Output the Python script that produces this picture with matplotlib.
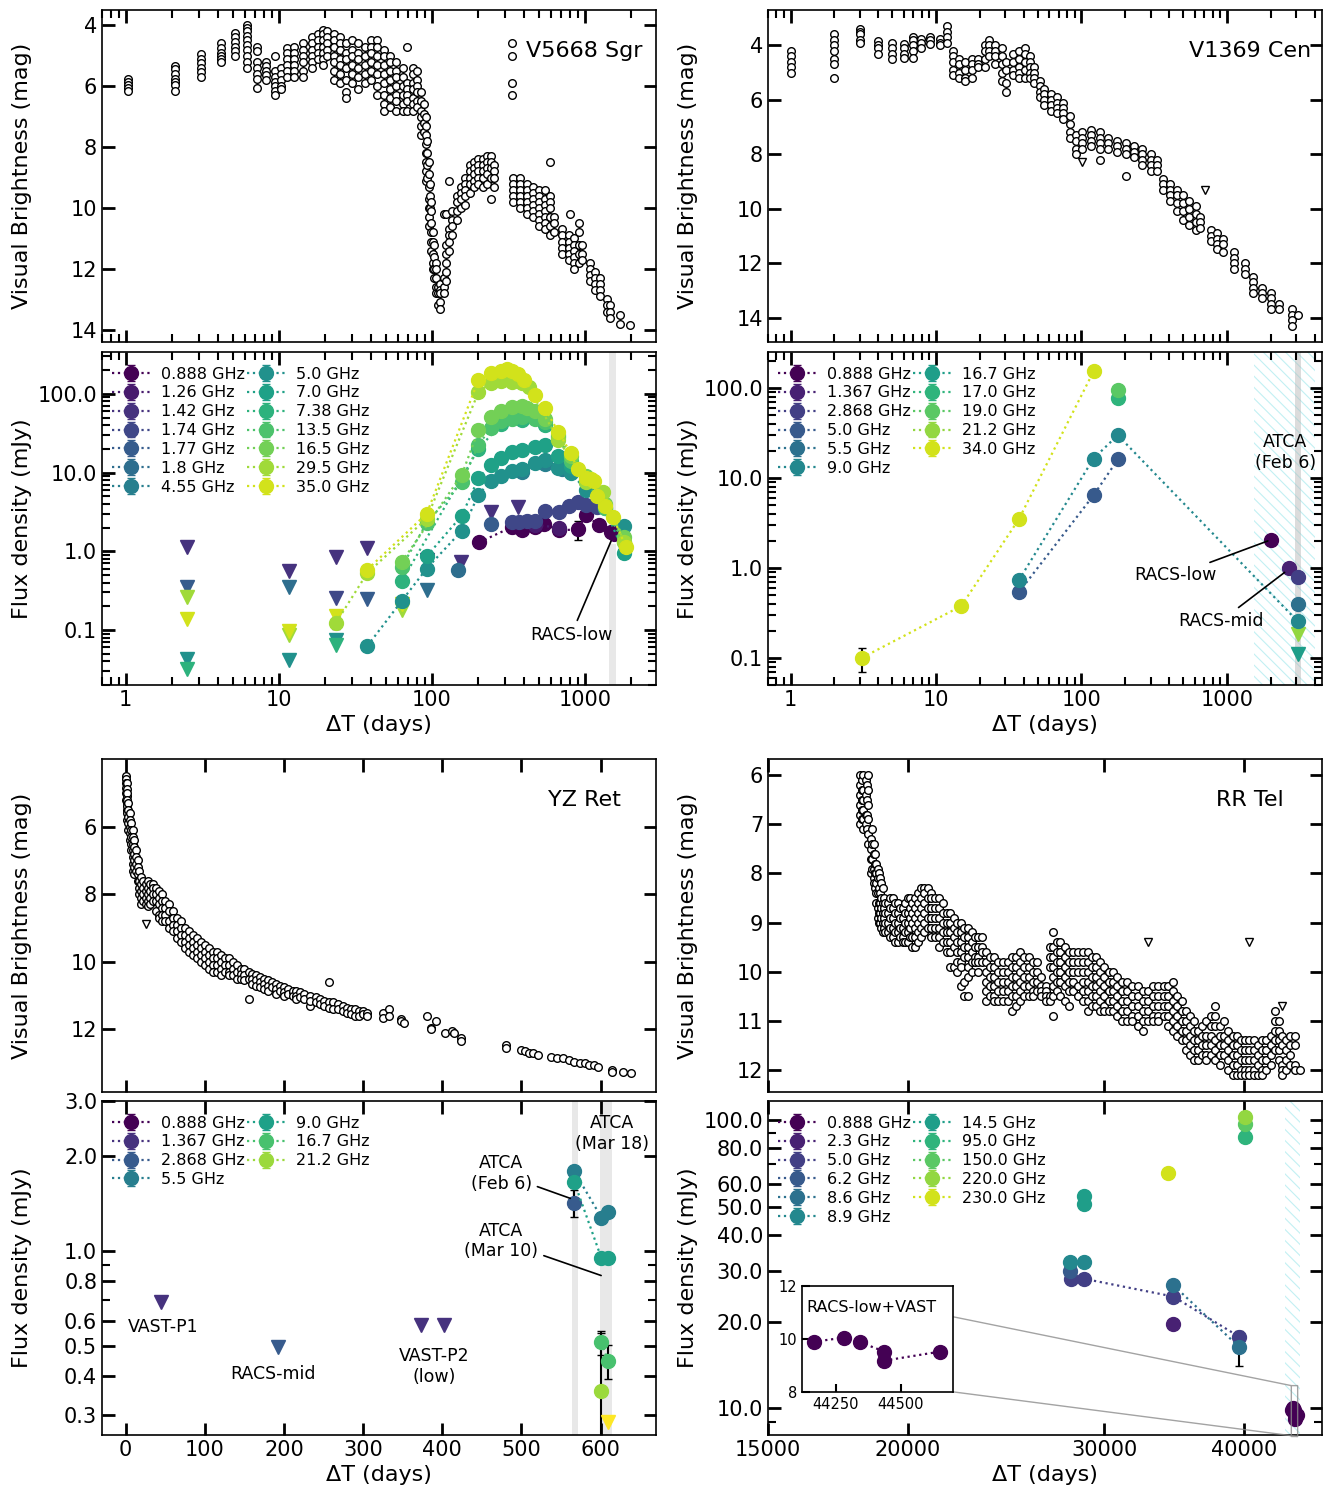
import numpy as np
import matplotlib.pyplot as plt
from matplotlib.ticker import (FixedLocator, FormatStrFormatter, NullFormatter,
                               NullLocator, FuncFormatter)

plt.rcParams['font.family'] = 'DejaVu Sans'
plt.rcParams['axes.linewidth'] = 1.2
plt.rcParams['hatch.linewidth'] = 0.8

# ------------------------------------------------------------------
# optical light curves, one row per epoch: "day  mag mag mag ..."
# ------------------------------------------------------------------
V5668_LC = """
1.04 5.75 5.85 5.95 6.05 6.15
2.09 5.35 5.45 5.6 5.75 5.85 5.95 6.15
3.11 4.95 5.1 5.25 5.4 5.55 5.7
4.16 4.6 4.75 4.9 5.0 5.1 5.2
5.16 4.25 4.4 4.55 4.7 4.85 5.0
6.23 4.0 4.1 4.2 4.35 4.5 4.65 4.8 5.0 5.2 5.4
7.24 4.7 4.85 5.2 5.4 5.6 5.75 6.05
8.3 5.2 5.35 5.5 5.65 5.8
9.38 5.0 5.5 5.7 5.85 6.0 6.15 6.3
10.3 5.4 5.6 5.8 6.0 6.1
11.3 4.75 4.9 5.1 5.3 5.5 5.7
12.5 4.7 4.9 5.1 5.3 5.5 5.7
14.3 4.6 4.8 5.0 5.2 5.5 5.7
16.5 4.4 4.6 4.8 5.0 5.2 5.4
18.0 4.3 4.5 4.7 4.9 5.1
19.4 4.15 4.3 4.5 4.7 4.9 5.1 5.3
20.7 4.2 4.4 4.6 4.8 5.0
22.8 4.3 4.5 4.7 5.0 5.2 5.5 5.8
25.0 4.4 4.6 4.8 5.1 5.3 5.6 5.9
27.5 4.6 4.9 5.1 5.4 5.8 6.2 6.4
30.1 4.5 4.8 5.0 5.3 5.6 5.9
33.0 4.6 4.9 5.1 5.4 5.7 6.1
36.4 4.7 5.0 5.3 5.6 5.9
39.9 4.5 4.7 4.9 5.2 5.5 5.8
44.0 4.5 4.7 5.0 5.3 5.6 6.0 6.3
48.3 4.8 5.0 5.3 5.6 5.9 6.3 6.6 6.8
53.3 5.0 5.2 5.5 5.8 6.1 6.4 6.7
58.5 5.2 5.5 5.7 6.0 6.3 6.5 6.8
64.3 5.4 5.7 6.0 6.3 6.6 6.8
68.3 4.7 5.9 6.1 6.3 6.5 6.8
75.1 5.4 5.6 5.9 6.1 6.4 6.6 6.8
79.8 5.5 5.8 6.0 6.2 6.5 6.7
84.8 6.2 6.5 6.8 7.0 7.3 7.6
88.0 6.6 6.9 7.2 7.5
90.7 7.0 7.3 7.6 7.9 8.2 8.5 8.8 9.1
93.0 7.8 8.2 8.6 9.0
95.0 8.5 8.9 9.3 9.7 10.0 10.3 10.6
97.0 9.2 9.6 10.0
98.8 9.8 10.1 10.5 10.8 11.1 11.4
101 10.8 11.1 11.5 11.8 12.0
103 11.2 11.6 12.0 12.3
106 11.8 12.0 12.3 12.6 12.8
110 12.6 12.8 13.2
113 12.5 12.7 12.8 13.1 13.3
119 12.3 12.6 12.8 10.2
124 11.2 11.5 11.8 12.1 12.4 10.2
130 10.7 10.9 11.1 11.4 9.1
136 10.1 10.4 10.6 10.9
145 9.6 9.8 10.1 10.4
155 9.3 9.5 9.7 10.0
165 9.0 9.2 9.4 9.6 9.9
176 8.6 8.8 9.0 9.2 9.5
188 8.5 8.7 8.9 9.1 9.3
200 8.4 8.6 8.8 9.0 9.2
214 8.4 8.6 8.8 9.0 9.3
228 8.3 8.5 8.7 8.9 9.2
242 8.3 8.5 8.7 9.0 9.7
254 8.6 8.8 9.0 9.3
331 4.6 5.0 5.9 6.3
340 9.0 9.2 9.4 9.6 9.8
375 9.0 9.2 9.4 9.6 9.8 10.0
415 9.2 9.4 9.6 9.8 10.0 10.2
455 9.3 9.5 9.7 9.9 10.1 10.3
500 9.4 9.6 9.8 10.0 10.2 10.4 10.6
550 9.4 9.7 9.9 10.1 10.3 10.5 10.7
590 9.6 9.8 10.0 10.3 10.6 10.9 8.5
625 10.3 10.5 10.8
710 10.7 10.9 11.1 11.3 11.5
780 10.9 11.1 11.3 11.5 11.7
800 10.2
840 11.0 11.2 11.4 11.6 11.8 12.0
905 10.5 10.8 11.2 11.5 11.8
960 11.2 11.5 11.7
1080 11.8 12.0 12.2 12.4
1160 12.1 12.3 12.5 12.7
1250 12.3 12.5 12.7 12.9
1380 13.0 13.2 13.4
1450 13.2 13.4 13.6
1700 13.5 13.8
1950 13.85
"""

V1369_LC = """
1.0 4.2 4.4 4.6 4.8 5.0
1.99 3.6 3.8 4.0 4.2 4.5 4.7 5.2
2.98 3.4 3.5 3.6 3.8 3.9
3.99 3.85 4.0 4.1 4.3
4.98 3.9 4.1 4.3 4.5
5.98 3.95 4.1 4.3 4.45
6.94 3.7 3.8 4.0 4.2 4.45
7.93 3.75 3.9 4.1
9.1 3.7 3.8 3.95
10.6 3.75 3.9 4.0
11.9 3.3 3.5 3.7 3.9
13.0 4.2 4.4 4.6 4.9 5.1
14.4 4.5 4.7 5.0 5.2
15.9 4.6 4.9 5.2 5.3
17.6 4.5 4.7 4.9 5.2
19.5 4.5 4.7 4.8
21.6 4.0 4.2 4.5 4.8
23.0 3.8 4.0 4.2 4.4
25.5 4.0 4.2 4.4 4.7
28.2 4.1 4.4 4.7 5.0 5.3
30.4 4.6 4.9 5.4 5.7
33.6 4.3 4.6 4.9 5.1
37.2 4.2 4.5 4.8 5.0 5.2
41.2 4.1 4.3 4.6 4.9 5.2
44.1 4.4 4.6 4.8 5.0 5.2
47.0 4.8 5.0 5.2 5.4
51.9 5.3 5.5 5.7 5.9
55.6 5.6 5.8 6.0 6.2
61.5 5.8 6.0 6.2 6.4
67.9 5.9 6.1 6.3 6.5
75.0 6.1 6.3 6.5 6.7
83.0 6.6 6.9 7.2 7.4
91.8 7.3 7.5 7.8 8.0
101 7.2 7.4 7.6 7.8
117 7.1 7.3 7.5 7.7
134 7.2 7.4 7.6 7.8 8.2
153 7.4 7.6 7.8
175 7.5 7.7 7.9
201 7.6 7.8 8.0 8.8
229 7.7 7.9 8.1
262 7.8 8.0 8.2 8.4
300 8.0 8.2 8.4 8.6
332 8.2 8.4 8.6
366 8.9 9.1 9.3
406 9.1 9.3 9.5 9.7
450 9.3 9.5 9.8 10.1
497 9.5 9.8 10.1 10.4
550 9.7 10.0 10.3 10.6
610 9.9 10.2 10.5 10.8
650 10.3 10.5 10.7
775 10.8 11.0 11.2
855 10.9 11.1 11.3 11.5
945 11.1 11.3 11.6
1110 11.6 11.8 12.0 12.2
1320 12.0 12.2 12.4
1510 12.5 12.7 12.9 13.1
1740 12.9 13.1 13.3
1995 13.1 13.3 13.5 13.7
2280 13.5 13.7
2790 13.7 13.9 14.1 14.3
3080 13.9
"""
V1369_LC_LIM_DAY = [101, 710]
V1369_LC_LIM_MAG = [8.3, 9.3]

YZRET_LC = """
0 4.5 4.6 4.7 4.85 5.0 5.2
1 4.7 4.9 5.1 5.3 5.5
2 5.0 5.2 5.4 5.6 5.8
3 5.3 5.5 5.7 5.9 6.1
5 5.6 5.8 6.0 6.2 6.4
7 5.9 6.1 6.3 6.5 6.7
9 6.1 6.3 6.5 6.7 6.9 7.1 7.3
11 6.4 6.6 6.8 7.0 7.2 7.4
13 6.7 6.9 7.1 7.3
15 7.0 7.2 7.4 7.6
17 7.3 7.6 7.8 8.0
19 7.5 7.7 7.9 8.1 8.3
22 7.6 7.8 8.0 8.2
25 7.7 7.9 8.1 8.3
28 7.6 7.8 8.0 8.2 8.35
31 7.7 7.9 8.1 8.3
34 7.7 7.8 8.0 8.2
38 7.8 8.0 8.2 8.5
42 7.9 8.1 8.3 8.6 8.7
46 8.0 8.2 8.4 8.6 8.8
50 8.2 8.4 8.6 8.8
55 8.3 8.5 8.8 9.0
60 8.5 8.7 8.9 9.1
65 8.7 8.9 9.1 9.3
70 8.8 9.0 9.2 9.4
75 9.0 9.2 9.4 9.6
80 9.1 9.3 9.5 9.7
85 9.2 9.4 9.6 9.8
90 9.3 9.5 9.7 9.9
95 9.4 9.6 9.8 10.0
100 9.5 9.7 9.9 10.1
105 9.6 9.8 10.0 10.2
110 9.7 9.9 10.1 10.3
115 9.7 9.9 10.1 10.3
120 9.8 10.0 10.2 10.4
125 9.9 10.1 10.3
130 9.9 10.1 10.3 10.4
135 10.0 10.2 10.4
140 10.1 10.3 10.5
145 10.2 10.35 10.5
150 10.2 10.4 10.55
156 11.1 10.3 10.5
160 10.35 10.5 10.65
165 10.4 10.55 10.7
170 10.45 10.6 10.75
175 10.5 10.65 10.8
180 10.55 10.7 10.85
185 10.6 10.75
190 10.65 10.8 10.95
195 10.7 10.85
200 10.75 10.9 11.0
205 10.8 10.95
211 10.9 10.85 11.0
215 10.85 11.0 11.1
220 10.9 11.05
225 10.95 11.1
233 11.3 11.0 11.15
240 11.05 11.2
245 11.1 11.25
250 11.15 11.3
257 10.6 11.2 11.35
262 11.2 11.4
268 11.25 11.4
274 11.3 11.45
280 11.35 11.5
285 11.4 11.55
290 11.4 11.6
295 11.45 11.6
300 11.45 11.55
305 11.5 11.6
325 11.5 11.65
333 11.4 11.6
348 11.7 11.75
352 11.8
381 11.6
386 11.95 12.0
392 11.75
403 12.1
412 12.05
415 12.1
424 12.25 12.35
480 12.45 12.55
499 12.6
504 12.65
510 12.7
515 12.7
521 12.75
537 12.8
545 12.85
552 12.85
560 12.9
567 12.95
574 13.0
580 13.0
585 13.05
592 13.05
597 13.1
614 13.2 13.25
628 13.25
638 13.28
"""
YZRET_LC_LIM_DAY = [25.2]
YZRET_LC_LIM_MAG = [8.88]

RRTEL_LC = """
18150 6.0 6.2 6.4 6.6 6.8 7.0
18200 6.1 6.3 6.5 6.7 6.9
18250 6.0 6.3 6.5 6.7 6.9 7.1
18350 6.1 6.4 6.8 7.0
18400 6.2 6.5 6.8 7.1
18450 6.0 6.3 6.6 6.9 7.2 7.4
18550 7.3 7.5 7.7 8.0
18600 7.1 7.4 7.7 7.9
18650 7.4 7.6 7.9 8.1 8.2
18700 7.6 7.8 8.0 8.3
18750 7.8 8.0 8.2 8.4 8.6
18800 7.9 8.1 8.4 8.7 8.9
18850 8.0 8.3 8.6 8.8 9.0
18900 8.1 8.4 8.6 8.8 9.0
18950 8.2 8.5 8.7 8.9 9.1
19000 8.3 8.6 8.8 9.0 9.2
19050 8.5 8.7 8.9 9.1
19100 8.6 8.8 9.0 9.2
19200 8.6 8.8 9.0 9.2
19300 8.5 8.7 8.9 9.1 9.3
19400 8.5 8.7 8.9 9.1 9.3
19500 8.6 8.8 9.0 9.2 9.4
19600 8.6 8.8 9.0 9.2 9.4
19700 8.7 8.9 9.1 9.3
19800 8.7 8.9 9.1 9.3 9.4
19900 8.6 8.8 9.0 9.2 9.4
20000 8.5 8.8 9.0 9.2 9.4
20100 8.5 8.7 8.9 9.1 9.3
20200 8.6 8.8 9.0 9.3 9.5
20320 8.5 8.7 8.9 9.1 9.3 9.5
20440 8.4 8.6 8.8 9.0 9.2 9.4
20570 8.3 8.5 8.7 8.9 9.1 9.3
20700 8.3 8.4 8.6 8.8 9.0 9.2
20850 8.3 8.5 8.7 8.9 9.1
21000 8.4 8.5 8.7 8.9 9.1 9.3
21180 8.5 8.7 8.9 9.1 9.3
21360 8.5 8.7 8.9 9.1 9.3 9.5
21530 8.6 8.8 9.0 9.2 9.4
21700 8.8 9.0 9.2 9.4 9.6
21850 8.8 9.0 9.2 9.4 9.6 9.9
22000 8.9 9.1 9.3 9.5 9.9
22150 9.0 9.2 9.4 9.6 9.8 10.0
22310 9.0 9.2 9.4 9.6 9.8 9.9 10.3
22480 9.1 9.3 9.5 9.7 10.2 10.5
22650 9.1 9.3 9.5 9.7 9.9 10.1 10.5
22820 9.2 9.4 9.6 9.8 10.0
23000 9.3 9.5 9.7 9.8
23150 9.3 9.5 9.7 9.8 10.0
23300 9.3 9.5 9.6 9.8
23520 9.6 9.8 10.0 10.2 10.4 10.6
23700 9.7 9.9 10.1 10.3 10.5
23900 9.7 9.9 10.1 10.3 10.5 10.6
24100 9.8 10.0 10.2 10.4 10.6
24350 9.8 10.0 10.2 10.4 10.6
24580 9.8 10.0 10.2 10.4 10.6
24800 9.7 9.9 10.1 10.3 10.5 10.8
25000 9.7 9.9 10.1 10.3 10.5 10.7
25200 9.6 9.8 10.0 10.2 10.4 10.6
25450 9.7 9.9 10.1 10.3 10.5
25700 9.7 9.9 10.1 10.3 10.5
25900 9.8 10.0 10.2 10.4 10.5
26120 9.8 10.0 10.2 10.4
26350 10.1 10.3 10.4 10.5
26600 10.3 10.4 10.5 10.6
26800 9.5 9.7 9.9 10.5 10.6
27000 9.2 9.5 9.7 9.9 10.1 10.3 10.5 10.9
27200 9.4 9.6 9.8 10.0 10.2 10.4
27400 9.4 9.6 9.8 10.0 10.2 10.5
27650 9.5 9.7 9.9 10.1 10.3 10.6
27900 9.6 9.8 10.0 10.2 10.4 10.7
28150 9.6 9.8 10.0 10.2 10.4
28400 9.6 9.8 10.0 10.3 10.5
28700 9.6 9.8 10.0 10.2 10.4 10.6
29020 9.6 9.8 10.0 10.2 10.4 10.6 10.8
29250 9.7 9.9 10.1 10.3 10.5 10.7
29500 9.7 9.9 10.1 10.3 10.5 10.7
29750 9.8 10.0 10.2 10.4 10.6 10.8
30000 9.9 10.1 10.3 10.5 10.7 10.8
30270 10.0 10.2 10.4 10.6 10.8
30550 10.0 10.2 10.4 10.6 10.8
30830 10.1 10.3 10.5 10.7 10.9
31110 10.2 10.4 10.6 10.8 11.0
31450 10.2 10.4 10.6 10.8 11.0
31800 10.3 10.5 10.7 10.9 11.0
32150 10.3 10.5 10.7 10.9 11.1
32510 10.4 10.6 10.8 11.0 11.2
32850 10.4 10.6 10.8 11.0
33200 10.3 10.5 10.7 10.9 11.0
33550 10.3 10.5 10.7 10.9 11.0
33900 10.3 10.5 10.7 10.9
34230 10.3 10.5 10.7 10.9 11.1
34560 10.2 10.4 10.6 10.8 11.0 11.2
34880 10.5 10.7 10.9 11.1 11.3
35200 10.6 10.8 11.0 11.2 11.4
35500 10.8 11.0 11.2 11.4 11.6
35800 10.9 11.1 11.3 11.5 11.7
36100 11.0 11.2 11.4 11.6 11.8
36410 11.2 11.4 11.6 11.8
36700 11.1 11.3 11.5 11.7
37000 11.0 11.3 11.5 11.7 11.8
37350 10.9 11.1 11.3 11.5 11.7
37720 10.7 10.9 11.1 11.4 11.6 11.8
38050 11.1 11.3 11.5 11.7 11.9
38400 11.0 11.3 11.5 11.7
38750 11.2 11.4 11.6 11.8 12.0
39100 11.3 11.5 11.7 11.9 12.1
39450 11.3 11.5 11.7 11.9 12.1
39800 11.4 11.6 11.8 12.0 12.1
40130 11.4 11.6 11.8 12.0 12.1
40470 11.4 11.6 11.8 12.0 12.1
40830 11.4 11.6 11.8 12.0 12.1
41200 11.5 11.7 11.9 12.1
41550 11.4 11.6 11.8 12.0 12.1
41900 11.4 11.6 11.8 12.0
42270 11.3 11.5 11.7 11.9
42650 10.8 11.0 11.2 11.4 11.6
43000 11.0 11.2 11.4 11.6 11.8
43300 11.3 11.5 11.9 12.0 12.1
43650 11.4 11.6 11.8 12.0
44000 11.3 11.5 11.7 11.9
44450 11.3 11.5 11.9 12.0
44950 12.0
"""
RRTEL_LC_LIM_DAY = [32810, 40470, 43290]
RRTEL_LC_LIM_MAG = [9.4, 9.4, 10.7]

# ------------------------------------------------------------------
# radio flux densities: label -> (days, mJy, err); limits: label -> (days, mJy)
# ------------------------------------------------------------------
V5668_FREQ = ['0.888 GHz', '1.26 GHz', '1.42 GHz', '1.74 GHz', '1.77 GHz', '1.8 GHz',
              '4.55 GHz', '5.0 GHz', '7.0 GHz', '7.38 GHz', '13.5 GHz', '16.5 GHz',
              '29.5 GHz', '35.0 GHz']
V5668_DET = {
    '0.888 GHz': ([203, 331, 385, 472, 542, 677, 894, 1011, 1230, 1470],
                  [1.3, 2.02, 1.85, 2.03, 2.2, 1.85, 1.89, 2.87, 2.14, 1.76],
                  [0.15, 0.3, 0.2, 0.2, 0.2, 0.2, 0.5, 0.25, 0.2, 0.2]),
    '1.26 GHz': ([472, 677], [2.15, 2.0], [0.2, 0.2]),
    '1.74 GHz': ([331, 368, 420, 472, 550, 677, 788, 894, 1011, 1190],
                 [2.38, 2.36, 2.45, 2.43, 3.25, 3.16, 3.73, 4.23, 3.84, 3.65],
                 [0.2] * 10),
    '1.77 GHz': ([243], [2.25], [0.2]),
    '1.8 GHz': ([148.5], [0.573], [0.08]),
    '4.55 GHz': ([385, 544, 707], [10.2, 12.8, 11.1], [0.5, 0.5, 0.5]),
    '5.0 GHz': ([37.8, 63.4, 92.3, 156.6, 201, 241, 284, 331, 385, 468, 544, 667, 805, 1011, 1800],
                [0.0626, 0.234, 0.603, 1.83, 5.2, 7.9, 9.15, 10.6, 11.1, 13.1, 14.5, 11.3, 10.0, 6.0, 2.1],
                [0.005] * 15),
    '7.0 GHz': ([92.3, 156.6, 201, 241, 284, 331, 385, 468, 544, 667, 805, 1011, 1340, 1800],
                [0.864, 2.84, 8.48, 12.5, 15.2, 18.1, 19.5, 21.3, 22.7, 16.4, 12.0, 7.5, 3.5, 0.95],
                [0.05] * 14),
    '7.38 GHz': ([63.4, 201, 284, 385, 544], [0.416, 20, 42, 46, 40], [0.03] * 5),
    '13.5 GHz': ([63.4, 92.3, 156.6, 201, 241, 284, 331, 385, 468, 544, 667, 805, 1011, 1340, 1800],
                 [0.632, 2.29, 7.54, 22.4, 36.6, 45.6, 48, 50.5, 48, 44, 28, 14, 8, 3.5, 1.3],
                 [0.05] * 15),
    '16.5 GHz': ([63.4, 156.6, 201, 241, 284, 331, 385, 420, 468, 544, 667, 805, 1011, 1340, 1800],
                 [0.731, 9.4, 34.8, 51.5, 61, 67.5, 69.6, 66, 61, 48, 30, 16, 9, 4, 1.5],
                 [0.05] * 15),
    '29.5 GHz': ([23.6, 37.8, 92.3, 201, 241, 284, 331, 385, 427, 667, 1012, 1310, 1800],
                 [0.123, 0.53, 2.6, 105, 137, 147, 143, 137, 121, 26.2, 7.5, 5.6, 1.3],
                 [0.02] + [0.03] * 12),
    '35.0 GHz': ([37.8, 92.3, 201, 241, 284, 309, 331, 364, 401, 468, 544, 667, 805, 892,
                  1012, 1090, 1150, 1200, 1340, 1520, 1850],
                 [0.585, 3.0, 150, 184, 198, 207, 194, 179, 148, 98, 66, 33, 17.7, 11.1,
                  8.5, 8.3, 7.8, 5.0, 3.81, 2.7, 1.12],
                 [0.03] * 21),
}
V5668_LIM = {
    '1.42 GHz': ([2.52, 11.6, 23.6, 37.8, 92.3, 153.5, 243, 364],
                 [1.13, 0.56, 0.85, 1.10, 0.78, 0.73, 3.16, 3.65]),
    '1.74 GHz': ([23.6], [0.258]),
    '1.77 GHz': ([2.52, 37.8], [0.352, 0.246]),
    '1.8 GHz': ([11.6, 92.5], [0.352, 0.326]),
    '5.0 GHz': ([2.52, 11.6, 23.6], [0.0433, 0.042, 0.0755]),
    '7.38 GHz': ([2.52, 23.6], [0.0323, 0.064]),
    '29.5 GHz': ([2.52, 11.6, 63.4], [0.262, 0.086, 0.178]),
    '35.0 GHz': ([2.52, 11.6, 23.6, 63.4], [0.139, 0.097, 0.149, 0.212]),
}
V5668_RACS_DAY, V5668_RACS_FLUX = 1540, 1.6

V1369_FREQ = ['0.888 GHz', '1.367 GHz', '2.868 GHz', '5.0 GHz', '5.5 GHz', '9.0 GHz',
              '16.7 GHz', '17.0 GHz', '19.0 GHz', '21.2 GHz', '34.0 GHz']
V1369_DET = {
    '0.888 GHz': ([2020], [2.04], [0.1]),
    '1.367 GHz': ([2665], [1.0], [0.12]),
    '2.868 GHz': ([3060], [0.79], [0.05]),
    '5.0 GHz': ([37.1, 121, 177.6], [0.535, 6.4, 16.0], [0.03, 0.3, 0.5]),
    '5.5 GHz': ([3060], [0.40], [0.03]),
    '9.0 GHz': ([37.1, 121, 177.6, 3060], [0.73, 16.4, 29.8, 0.255], [0.03, 0.5, 1.0, 0.02]),
    '17.0 GHz': ([177.6], [76.6], [2.0]),
    '19.0 GHz': ([177.6], [95.0], [2.0]),
    '34.0 GHz': ([3.09, 14.9, 37.1, 121], [0.1, 0.376, 3.47, 152], [0.03, 0.03, 0.2, 5]),
}
V1369_LIM = {
    '16.7 GHz': ([3060], [0.11]),
    '21.2 GHz': ([3060], [0.184]),
}

YZRET_FREQ = ['0.888 GHz', '1.367 GHz', '2.868 GHz', '5.5 GHz', '9.0 GHz', '16.7 GHz', '21.2 GHz']
YZRET_DET = {
    '2.868 GHz': ([566.8], [1.42], [0.14]),
    '5.5 GHz': ([566.8, 601.1, 609.6], [1.79, 1.277, 1.335], [0.03, 0.03, 0.03]),
    '9.0 GHz': ([566.8, 601.1, 609.6], [1.656, 0.948, 0.948], [0.03, 0.03, 0.03]),
    '16.7 GHz': ([601.1, 609.6], [0.512, 0.446], [0.045, 0.055]),
    '21.2 GHz': ([601.1], [0.358], [0.19]),
}
YZRET_LIM = {
    '1.367 GHz': ([44.9, 373.3, 402.1], [0.689, 0.581, 0.581]),
    '2.868 GHz': ([192.5], [0.495]),
}
YZRET_LIM33_DAY, YZRET_LIM33_FLUX = [609.6], [0.285]

RRTEL_FREQ = ['0.888 GHz', '2.3 GHz', '5.0 GHz', '6.2 GHz', '8.6 GHz', '8.9 GHz',
              '14.5 GHz', '95.0 GHz', '150.0 GHz', '220.0 GHz', '230.0 GHz']
RRTEL_DET = {
    '0.888 GHz': ([44165, 44282, 44342, 44437, 44437, 44650],
                  [9.89, 10.05, 9.88, 9.52, 9.18, 9.52], [0.1] * 6),
    '2.3 GHz': ([34600], [19.6], [0.3]),
    '5.0 GHz': ([27990, 28800, 34600, 39640], [28.1, 28.1, 24.4, 17.7], [0.3] * 4),
    '6.2 GHz': ([27930], [30.0], [0.3]),
    '8.6 GHz': ([34600, 39640], [26.7, 16.3], [0.3, 2.3]),
    '8.9 GHz': ([27930, 28800], [32.2, 32.2], [0.3, 0.3]),
    '14.5 GHz': ([28800, 28800], [51.0, 54.3], [0.5, 0.5]),
    '95.0 GHz': ([40070], [86.9], [0.5]),
    '150.0 GHz': ([40070], [96.6], [0.5]),
    '220.0 GHz': ([40070], [101.9], [0.5]),
    '230.0 GHz': ([34220], [65.2], [0.5]),
}


def read_lc(block):
    days, mags = [], []
    for row in block.strip().splitlines():
        vals = [float(v) for v in row.split()]
        days += [vals[0]] * (len(vals) - 1)
        mags += vals[1:]
    return np.array(days), np.array(mags)


def style_ax(ax):
    ax.tick_params(which='both', direction='in', top=True, right=True, labelsize=15)
    ax.tick_params(which='major', length=9, width=2)
    ax.tick_params(which='minor', length=6, width=1.5)


def plot_lc(ax, block, lim_day, lim_mag, name):
    d, m = read_lc(block)
    ax.plot(d, m, 'o', ms=5.5, mfc='white', mec='k', mew=1.0, ls='none')
    if lim_day:
        ax.plot(lim_day, lim_mag, 'v', ms=5.5, mfc='white', mec='k', mew=1.0, ls='none')
    ax.text(0.87, 0.877, name, transform=ax.transAxes, ha='center', va='center', fontsize=16)
    ax.set_ylabel('Visual Brightness (mag)', fontsize=16)
    style_ax(ax)
    ax.tick_params(labelbottom=False)


def plot_radio(ax, freqs, det, lim, cols):
    for lab, c in zip(freqs, cols):
        # legend entry only
        ax.errorbar([np.nan], [np.nan], yerr=[np.nan], fmt='o:', color=c, ms=10, lw=1.6,
                    elinewidth=1.6, capsize=3, label=lab)
    for lab, c in zip(freqs, cols):
        if lab in lim:
            ax.plot(lim[lab][0], lim[lab][1], 'v', ms=10, color=c, ls='none')
        if lab in det:
            x, y, e = det[lab]
            ax.errorbar(x, y, yerr=e, fmt='o:', color=c, ms=10, lw=1.6, ecolor='k',
                        elinewidth=1.5, capsize=3)
    ax.set_ylabel('Flux density (mJy)', fontsize=16)
    ax.set_xlabel('ΔT (days)', fontsize=16)
    style_ax(ax)
    ax.legend(loc='upper left', bbox_to_anchor=(0, 0.985), ncol=2, frameon=False,
              fontsize=11.5, handlelength=2.4, handletextpad=0.7, columnspacing=0.1,
              labelspacing=0.24, borderaxespad=0.3, borderpad=0.3)


fig = plt.figure(figsize=(13.28, 14.91), dpi=100)
W = 554 / 1328
XL, XR = 102 / 1328, 768 / 1328
ax_lc1 = fig.add_axes([XL, 0.7706, W, 0.2227])
ax_f1 = fig.add_axes([XL, 0.5406, W, 0.2233])
ax_lc2 = fig.add_axes([XR, 0.7706, W, 0.2227])
ax_f2 = fig.add_axes([XR, 0.5406, W, 0.2233])
ax_lc3 = fig.add_axes([XL, 0.2676, W, 0.2233])
ax_f3 = fig.add_axes([XL, 0.0376, W, 0.2240])
ax_lc4 = fig.add_axes([XR, 0.2676, W, 0.2233])
ax_f4 = fig.add_axes([XR, 0.0376, W, 0.2240])

day_fmt = FuncFormatter(lambda v, p: '%g' % v)

# ---------------- V5668 Sgr ----------------
cols = plt.cm.viridis(np.linspace(0, 0.93, len(V5668_FREQ)))
for ax in (ax_lc1, ax_f1):
    ax.set_xscale('log')
    ax.set_xlim(0.7, 2900)
    ax.xaxis.set_major_formatter(day_fmt)
    ax.xaxis.set_minor_formatter(NullFormatter())
plot_lc(ax_lc1, V5668_LC, None, None, 'V5668 Sgr')
ax_lc1.set_ylim(14.4, 3.5)
ax_lc1.yaxis.set_major_locator(FixedLocator([4, 6, 8, 10, 12, 14]))

ax_f1.axvspan(1440, 1590, color='0.85', alpha=0.6, lw=0)
plot_radio(ax_f1, V5668_FREQ, V5668_DET, V5668_LIM, cols)
ax_f1.plot(V5668_RACS_DAY, V5668_RACS_FLUX, 'o', ms=11, mfc=cols[0], mec='white', mew=1.5)
ax_f1.set_yscale('log')
ax_f1.set_ylim(0.02, 340)
ax_f1.yaxis.set_major_formatter(FormatStrFormatter('%.1f'))
ax_f1.yaxis.set_minor_formatter(NullFormatter())
ax_f1.annotate('RACS-low', xy=(1500, 1.45), xytext=(810, 0.087), ha='center', va='center',
               fontsize=12.5, arrowprops=dict(arrowstyle='-', color='k', lw=1.2))

# ---------------- V1369 Cen ----------------
cols = plt.cm.viridis(np.linspace(0, 0.93, len(V1369_FREQ)))
for ax in (ax_lc2, ax_f2):
    ax.set_xscale('log')
    ax.set_xlim(0.7, 4500)
    ax.xaxis.set_major_formatter(day_fmt)
    ax.xaxis.set_minor_formatter(NullFormatter())
plot_lc(ax_lc2, V1369_LC, V1369_LC_LIM_DAY, V1369_LC_LIM_MAG, 'V1369 Cen')
ax_lc2.set_ylim(14.9, 2.7)
ax_lc2.yaxis.set_major_locator(FixedLocator([4, 6, 8, 10, 12, 14]))

ax_f2.axvspan(1530, 4000, facecolor='none', edgecolor='#c2f0f3', hatch='\\\\\\', lw=0)
ax_f2.axvspan(2930, 3240, color='0.7', alpha=0.45, lw=0)
plot_radio(ax_f2, V1369_FREQ, V1369_DET, V1369_LIM, cols)
ax_f2.set_yscale('log')
ax_f2.set_ylim(0.05, 250)
ax_f2.yaxis.set_major_formatter(FormatStrFormatter('%.1f'))
ax_f2.yaxis.set_minor_formatter(NullFormatter())
ax_f2.annotate('RACS-low', xy=(1990, 2.04), xytext=(443, 0.83), ha='center', va='center',
               fontsize=12.5, arrowprops=dict(arrowstyle='-', color='k', lw=1.2))
ax_f2.annotate('RACS-mid', xy=(2580, 0.93), xytext=(908, 0.257), ha='center', va='center',
               fontsize=12.5, arrowprops=dict(arrowstyle='-', color='k', lw=1.2))
ax_f2.text(2510, 19.1, 'ATCA\n(Feb 6)', ha='center', va='center', fontsize=12.5)

# ---------------- YZ Ret ----------------
cols = plt.cm.viridis(np.linspace(0, 0.85, len(YZRET_FREQ)))
for ax in (ax_lc3, ax_f3):
    ax.set_xlim(-30, 670)
    ax.xaxis.set_major_locator(FixedLocator([0, 100, 200, 300, 400, 500, 600]))
plot_lc(ax_lc3, YZRET_LC, YZRET_LC_LIM_DAY, YZRET_LC_LIM_MAG, 'YZ Ret')
ax_lc3.set_ylim(13.85, 4.0)
ax_lc3.yaxis.set_major_locator(FixedLocator([6, 8, 10, 12]))

ax_f3.axvspan(563.6, 571.1, color='0.85', alpha=0.6, lw=0)
ax_f3.axvspan(598.9, 613.9, color='0.85', alpha=0.6, lw=0)
plot_radio(ax_f3, YZRET_FREQ, YZRET_DET, YZRET_LIM, cols)
ax_f3.plot(YZRET_LIM33_DAY, YZRET_LIM33_FLUX, 'v', ms=10, color='#fde725', ls='none')
ax_f3.set_yscale('log')
ax_f3.set_ylim(0.26, 3.0)
ax_f3.yaxis.set_major_locator(FixedLocator([0.3, 0.4, 0.5, 0.6, 0.8, 1.0, 2.0, 3.0]))
ax_f3.yaxis.set_major_formatter(FormatStrFormatter('%.1f'))
ax_f3.yaxis.set_minor_locator(FixedLocator([0.7, 0.9]))
ax_f3.yaxis.set_minor_formatter(NullFormatter())
for txt, x, y in [('VAST-P1', 46.8, 0.573), ('RACS-mid', 186, 0.405),
                  ('VAST-P2\n(low)', 390, 0.43), ('ATCA\n(Mar 18)', 614, 2.36)]:
    ax_f3.text(x, y, txt, ha='center', va='center', fontsize=12.5)
ax_f3.annotate('ATCA\n(Feb 6)', xy=(565, 1.46), xytext=(474.7, 1.76), ha='center', va='center',
               fontsize=12.5, arrowprops=dict(arrowstyle='-', color='k', lw=1.2))
ax_f3.annotate('ATCA\n(Mar 10)', xy=(604, 0.83), xytext=(474.7, 1.076), ha='center', va='center',
               fontsize=12.5, arrowprops=dict(arrowstyle='-', color='k', lw=1.2))

# ---------------- RR Tel ----------------
cols = plt.cm.viridis(np.linspace(0, 0.93, len(RRTEL_FREQ)))
for ax in (ax_lc4, ax_f4):
    ax.set_xscale('log')
    ax.set_xlim(15000, 47000)
    ax.xaxis.set_major_locator(FixedLocator([15000, 20000, 30000, 40000]))
    ax.xaxis.set_major_formatter(FormatStrFormatter('%d'))
    ax.xaxis.set_minor_locator(NullLocator())
plot_lc(ax_lc4, RRTEL_LC, RRTEL_LC_LIM_DAY, RRTEL_LC_LIM_MAG, 'RR Tel')
ax_lc4.set_ylim(12.45, 5.67)
ax_lc4.yaxis.set_major_locator(FixedLocator([6, 7, 8, 9, 10, 11, 12]))

ax_f4.axvspan(43550, 44900, facecolor='none', edgecolor='#c2f0f3', hatch='\\\\\\', lw=0)
plot_radio(ax_f4, RRTEL_FREQ, RRTEL_DET, {}, cols)
ax_f4.set_yscale('log')
ax_f4.set_ylim(8.1, 116)
ax_f4.yaxis.set_major_locator(FixedLocator([10, 20, 30, 40, 50, 60, 80, 100]))
ax_f4.yaxis.set_major_formatter(FormatStrFormatter('%.1f'))
ax_f4.yaxis.set_minor_locator(FixedLocator([9, 70, 90]))
ax_f4.yaxis.set_minor_formatter(NullFormatter())

axin = ax_f4.inset_axes([0.061, 0.129, 0.273, 0.317])
xi, yi, ei = RRTEL_DET['0.888 GHz']
axin.plot(xi, yi, 'o:', color=cols[0], ms=10, lw=1.6)
axin.set_xlim(44120, 44700)
axin.set_ylim(8, 12)
axin.set_xticks([44250, 44500])
axin.set_yticks([8, 10, 12])
axin.tick_params(direction='in', labelsize=10.5, length=6, width=1.5)
axin.text(0.03, 0.795, 'RACS-low+VAST', transform=axin.transAxes, ha='left', va='center',
          fontsize=11.5)
ax_f4.indicate_inset_zoom(axin, edgecolor='0.55', alpha=0.8)

for ax in (ax_lc1, ax_f1, ax_lc3, ax_f3, ax_lc2, ax_f2, ax_lc4, ax_f4):
    ax.yaxis.set_label_coords(-0.127, 0.5)

fig.savefig('out.png', dpi=100)
